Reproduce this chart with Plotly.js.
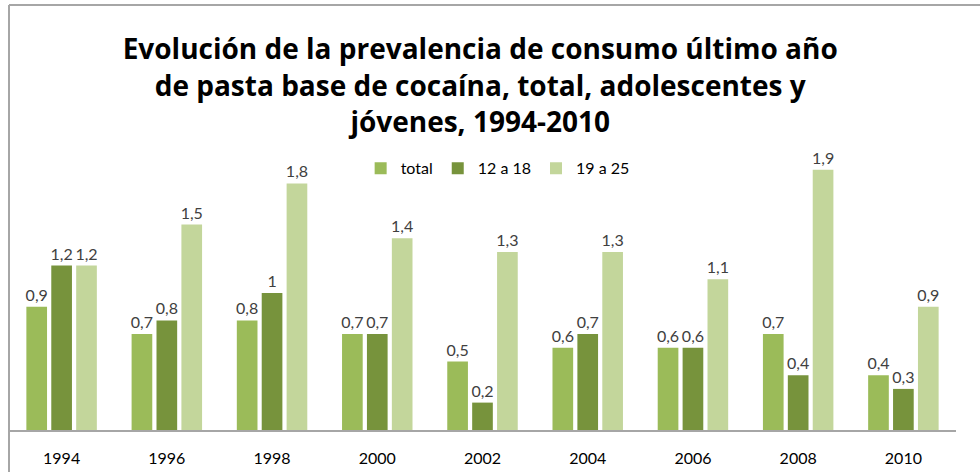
<!DOCTYPE html>
<html>
<head>
<meta charset="utf-8">
<script src="https://cdn.plot.ly/plotly-3.0.1.min.js"></script>
<style>html,body{margin:0;padding:0;background:#fff;}#chart{width:980px;height:472px;}</style>
</head>
<body>
<div id="chart"></div>
<script>
var years = ['1994','1996','1998','2000','2002','2004','2006','2008','2010'];
var total = [0.9, 0.7, 0.8, 0.7, 0.5, 0.6, 0.6, 0.7, 0.4];
var edad12a18 = [1.2, 0.8, 1.0, 0.7, 0.2, 0.7, 0.6, 0.4, 0.3];
var edad19a25 = [1.2, 1.5, 1.8, 1.4, 1.3, 1.3, 1.1, 1.9, 0.9];
var seriesNames = ['total', '12 a 18', '19 a 25'];
var colors = ['#9BBB59', '#77933C', '#C3D69B'];

function lbl(arr){ return arr.map(function(v){ return String(v).replace('.', ','); }); }
var font = 'Lato, "Open Sans", sans-serif';
var titleFont = '"Open Sans", Lato, sans-serif';

var data = [total, edad12a18, edad19a25].map(function(vals, i){
  return {
    type: 'bar', x: years, y: vals, name: seriesNames[i],
    marker: {color: colors[i]},
    text: lbl(vals), textposition: 'outside', cliponaxis: false, constraintext: 'none',
    textfont: {family: font, size: 16, color: '#404040'},
    hoverinfo: 'x+y'
  };
});

var layout = {
  width: 980, height: 472,
  margin: {l: 9, r: 24, t: 156, b: 42},
  paper_bgcolor: '#fff', plot_bgcolor: '#fff',
  barmode: 'group', bargap: 0.29, bargroupgap: 0.17,
  title: {text: 'Evolución de la prevalencia de consumo último año<br>de pasta base de cocaína, total, adolescentes y<br>jóvenes, 1994-2010',
          font: {family: titleFont, size: 28, color: '#000', weight: 'bold'},
          x: 0.49, xanchor: 'center', y: 0.874, yanchor: 'top', yref: 'container'},
  xaxis: {showline: true, linecolor: '#A6A6A6', linewidth: 1.5, ticks: '', showgrid: false,
          ticklabelstandoff: 13,
          tickfont: {family: font, size: 16, color: '#000'}, fixedrange: true},
  yaxis: {range: [0, 2], visible: false, showgrid: false, zeroline: false},
  showlegend: true,
  legend: {orientation: 'h', x: 0.516, xanchor: 'center', y: 0.955, yanchor: 'middle',
           font: {family: font, size: 16, color: '#000'}, bgcolor: 'rgba(0,0,0,0)',
           itemwidth: 30, traceorder: 'normal'},
  shapes: [
    {type: 'line', xref: 'paper', yref: 'paper', x0: 0, x1: 0, y0: -0.2, y1: 1.551, line: {color: '#A6A6A6', width: 2}},
    {type: 'line', xref: 'paper', yref: 'paper', x0: 0, x1: 1.1, y0: 1.551, y1: 1.551, line: {color: '#A6A6A6', width: 2}}
  ]
};

Plotly.newPlot('chart', data, layout, {displayModeBar: false, staticPlot: true});
</script>
</body>
</html>
